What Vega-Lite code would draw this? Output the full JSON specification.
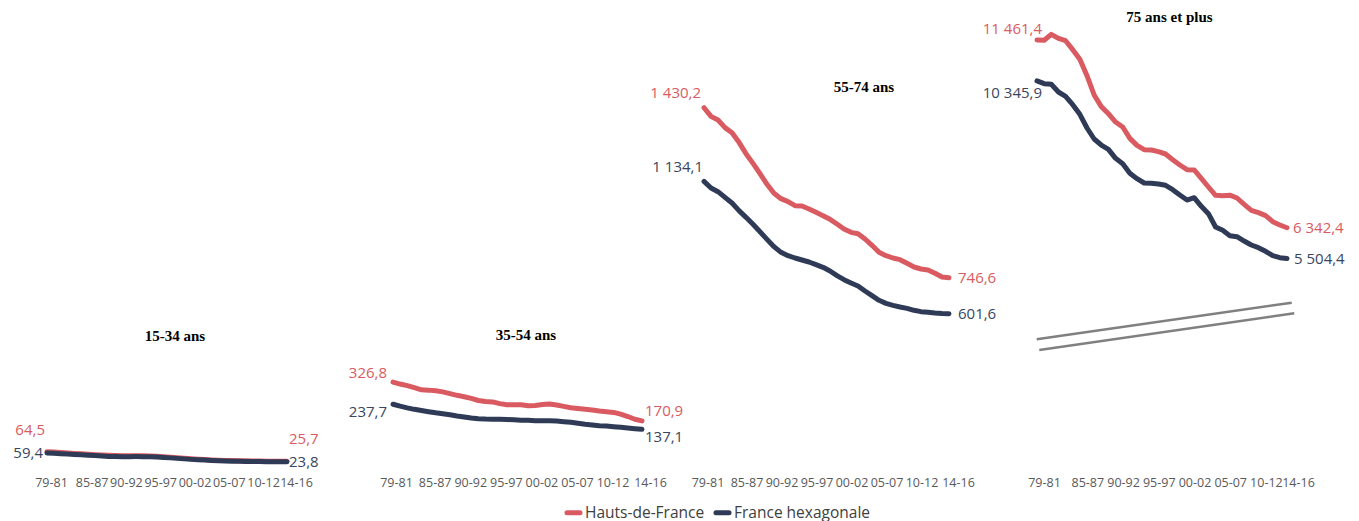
{
  "$schema": "https://vega.github.io/schema/vega-lite/v6.json",
  "padding": 0,
  "background": "white",
  "spacing": 0,
  "bounds": "flush",
  "datasets": {
    "p1": [
      {"annee": 1979, "Hauts-de-France": 64.5, "France hexagonale": 59.4},
      {"annee": 1980, "Hauts-de-France": 62.8, "France hexagonale": 57.9},
      {"annee": 1981, "Hauts-de-France": 61.0, "France hexagonale": 56.3},
      {"annee": 1982, "Hauts-de-France": 59.3, "France hexagonale": 54.8},
      {"annee": 1983, "Hauts-de-France": 57.6, "France hexagonale": 53.2},
      {"annee": 1984, "Hauts-de-France": 55.9, "France hexagonale": 51.7},
      {"annee": 1985, "Hauts-de-France": 54.2, "France hexagonale": 50.1},
      {"annee": 1986, "Hauts-de-France": 52.5, "France hexagonale": 48.6},
      {"annee": 1987, "Hauts-de-France": 51.0, "France hexagonale": 47.0},
      {"annee": 1988, "Hauts-de-France": 49.6, "France hexagonale": 45.5},
      {"annee": 1989, "Hauts-de-France": 48.8, "France hexagonale": 44.8},
      {"annee": 1990, "Hauts-de-France": 48.4, "France hexagonale": 44.5},
      {"annee": 1991, "Hauts-de-France": 48.3, "France hexagonale": 44.5},
      {"annee": 1992, "Hauts-de-France": 48.2, "France hexagonale": 44.6},
      {"annee": 1993, "Hauts-de-France": 48.0, "France hexagonale": 44.5},
      {"annee": 1994, "Hauts-de-France": 47.4, "France hexagonale": 44.0},
      {"annee": 1995, "Hauts-de-France": 46.2, "France hexagonale": 43.0},
      {"annee": 1996, "Hauts-de-France": 44.5, "France hexagonale": 41.5},
      {"annee": 1997, "Hauts-de-France": 42.4, "France hexagonale": 39.5},
      {"annee": 1998, "Hauts-de-France": 40.2, "France hexagonale": 37.5},
      {"annee": 1999, "Hauts-de-France": 38.0, "France hexagonale": 35.5},
      {"annee": 2000, "Hauts-de-France": 36.0, "France hexagonale": 33.5},
      {"annee": 2001, "Hauts-de-France": 34.3, "France hexagonale": 32.0},
      {"annee": 2002, "Hauts-de-France": 32.8, "France hexagonale": 30.5},
      {"annee": 2003, "Hauts-de-France": 31.4, "France hexagonale": 29.0},
      {"annee": 2004, "Hauts-de-France": 30.2, "France hexagonale": 27.8},
      {"annee": 2005, "Hauts-de-France": 29.3, "France hexagonale": 27.0},
      {"annee": 2006, "Hauts-de-France": 28.6, "France hexagonale": 26.3},
      {"annee": 2007, "Hauts-de-France": 28.0, "France hexagonale": 25.7},
      {"annee": 2008, "Hauts-de-France": 27.5, "France hexagonale": 25.3},
      {"annee": 2009, "Hauts-de-France": 27.1, "France hexagonale": 24.9},
      {"annee": 2010, "Hauts-de-France": 26.7, "France hexagonale": 24.6},
      {"annee": 2011, "Hauts-de-France": 26.4, "France hexagonale": 24.3},
      {"annee": 2012, "Hauts-de-France": 26.1, "France hexagonale": 24.1},
      {"annee": 2013, "Hauts-de-France": 25.9, "France hexagonale": 23.9},
      {"annee": 2014, "Hauts-de-France": 25.7, "France hexagonale": 23.8}
    ],
    "p2": [
      {"annee": 1979, "Hauts-de-France": 326.8, "France hexagonale": 237.7},
      {"annee": 1980, "Hauts-de-France": 319.0, "France hexagonale": 230.1},
      {"annee": 1981, "Hauts-de-France": 312.7, "France hexagonale": 223.4},
      {"annee": 1982, "Hauts-de-France": 304.4, "France hexagonale": 217.4},
      {"annee": 1983, "Hauts-de-France": 296.0, "France hexagonale": 212.7},
      {"annee": 1984, "Hauts-de-France": 294.6, "France hexagonale": 208.0},
      {"annee": 1985, "Hauts-de-France": 291.8, "France hexagonale": 203.3},
      {"annee": 1986, "Hauts-de-France": 287.5, "France hexagonale": 199.3},
      {"annee": 1987, "Hauts-de-France": 280.6, "France hexagonale": 195.3},
      {"annee": 1988, "Hauts-de-France": 273.7, "France hexagonale": 190.6},
      {"annee": 1989, "Hauts-de-France": 268.2, "France hexagonale": 186.6},
      {"annee": 1990, "Hauts-de-France": 261.3, "France hexagonale": 182.5},
      {"annee": 1991, "Hauts-de-France": 253.0, "France hexagonale": 179.9},
      {"annee": 1992, "Hauts-de-France": 248.8, "France hexagonale": 178.5},
      {"annee": 1993, "Hauts-de-France": 247.3, "France hexagonale": 177.9},
      {"annee": 1994, "Hauts-de-France": 240.4, "France hexagonale": 177.2},
      {"annee": 1995, "Hauts-de-France": 236.1, "France hexagonale": 176.5},
      {"annee": 1996, "Hauts-de-France": 235.9, "France hexagonale": 175.2},
      {"annee": 1997, "Hauts-de-France": 235.7, "France hexagonale": 173.8},
      {"annee": 1998, "Hauts-de-France": 231.5, "France hexagonale": 173.2},
      {"annee": 1999, "Hauts-de-France": 232.7, "France hexagonale": 171.8},
      {"annee": 2000, "Hauts-de-France": 236.5, "France hexagonale": 171.6},
      {"annee": 2001, "Hauts-de-France": 239.0, "France hexagonale": 171.5},
      {"annee": 2002, "Hauts-de-France": 234.7, "France hexagonale": 170.5},
      {"annee": 2003, "Hauts-de-France": 229.2, "France hexagonale": 167.8},
      {"annee": 2004, "Hauts-de-France": 223.6, "France hexagonale": 165.1},
      {"annee": 2005, "Hauts-de-France": 220.7, "France hexagonale": 161.1},
      {"annee": 2006, "Hauts-de-France": 217.8, "France hexagonale": 157.1},
      {"annee": 2007, "Hauts-de-France": 215.0, "France hexagonale": 154.4},
      {"annee": 2008, "Hauts-de-France": 210.8, "France hexagonale": 151.7},
      {"annee": 2009, "Hauts-de-France": 207.9, "France hexagonale": 150.4},
      {"annee": 2010, "Hauts-de-France": 205.0, "France hexagonale": 147.7},
      {"annee": 2011, "Hauts-de-France": 198.1, "France hexagonale": 145.0},
      {"annee": 2012, "Hauts-de-France": 188.5, "France hexagonale": 142.3},
      {"annee": 2013, "Hauts-de-France": 177.6, "France hexagonale": 139.6},
      {"annee": 2014, "Hauts-de-France": 170.9, "France hexagonale": 137.1}
    ],
    "p3": [
      {"annee": 1979, "Hauts-de-France": 1430.2, "France hexagonale": 1134.1},
      {"annee": 1980, "Hauts-de-France": 1395.5, "France hexagonale": 1107.4},
      {"annee": 1981, "Hauts-de-France": 1380.8, "France hexagonale": 1092.6},
      {"annee": 1982, "Hauts-de-France": 1350.0, "France hexagonale": 1069.8},
      {"annee": 1983, "Hauts-de-France": 1329.8, "France hexagonale": 1047.0},
      {"annee": 1984, "Hauts-de-France": 1291.0, "France hexagonale": 1016.2},
      {"annee": 1985, "Hauts-de-France": 1245.4, "France hexagonale": 989.4},
      {"annee": 1986, "Hauts-de-France": 1206.5, "France hexagonale": 961.3},
      {"annee": 1987, "Hauts-de-France": 1165.0, "France hexagonale": 931.8},
      {"annee": 1988, "Hauts-de-France": 1122.1, "France hexagonale": 901.0},
      {"annee": 1989, "Hauts-de-France": 1085.9, "France hexagonale": 871.5},
      {"annee": 1990, "Hauts-de-France": 1064.5, "France hexagonale": 848.7},
      {"annee": 1991, "Hauts-de-France": 1052.4, "France hexagonale": 835.3},
      {"annee": 1992, "Hauts-de-France": 1036.3, "France hexagonale": 825.9},
      {"annee": 1993, "Hauts-de-France": 1035.0, "France hexagonale": 817.9},
      {"annee": 1994, "Hauts-de-France": 1022.9, "France hexagonale": 809.8},
      {"annee": 1995, "Hauts-de-France": 1009.5, "France hexagonale": 799.1},
      {"annee": 1996, "Hauts-de-France": 996.1, "France hexagonale": 788.4},
      {"annee": 1997, "Hauts-de-France": 981.4, "France hexagonale": 773.6},
      {"annee": 1998, "Hauts-de-France": 962.6, "France hexagonale": 754.8},
      {"annee": 1999, "Hauts-de-France": 942.5, "France hexagonale": 738.8},
      {"annee": 2000, "Hauts-de-France": 929.1, "France hexagonale": 725.4},
      {"annee": 2001, "Hauts-de-France": 923.7, "France hexagonale": 713.3},
      {"annee": 2002, "Hauts-de-France": 902.3, "France hexagonale": 693.2},
      {"annee": 2003, "Hauts-de-France": 876.8, "France hexagonale": 674.4},
      {"annee": 2004, "Hauts-de-France": 848.7, "France hexagonale": 655.7},
      {"annee": 2005, "Hauts-de-France": 835.3, "France hexagonale": 643.6},
      {"annee": 2006, "Hauts-de-France": 825.9, "France hexagonale": 635.6},
      {"annee": 2007, "Hauts-de-France": 819.2, "France hexagonale": 628.9},
      {"annee": 2008, "Hauts-de-France": 804.5, "France hexagonale": 623.5},
      {"annee": 2009, "Hauts-de-France": 789.7, "France hexagonale": 615.5},
      {"annee": 2010, "Hauts-de-France": 781.7, "France hexagonale": 610.1},
      {"annee": 2011, "Hauts-de-France": 777.6, "France hexagonale": 607.4},
      {"annee": 2012, "Hauts-de-France": 764.3, "France hexagonale": 604.5},
      {"annee": 2013, "Hauts-de-France": 749.5, "France hexagonale": 602.5},
      {"annee": 2014, "Hauts-de-France": 746.6, "France hexagonale": 601.6}
    ],
    "p4": [
      {"annee": 1979, "Hauts-de-France": 11461.4, "France hexagonale": 10345.9},
      {"annee": 1980, "Hauts-de-France": 11455, "France hexagonale": 10271},
      {"annee": 1981, "Hauts-de-France": 11616, "France hexagonale": 10253},
      {"annee": 1982, "Hauts-de-France": 11507, "France hexagonale": 10044},
      {"annee": 1983, "Hauts-de-France": 11443, "France hexagonale": 9926},
      {"annee": 1984, "Hauts-de-France": 11198, "France hexagonale": 9698},
      {"annee": 1985, "Hauts-de-France": 10934, "France hexagonale": 9435},
      {"annee": 1986, "Hauts-de-France": 10489, "France hexagonale": 9062},
      {"annee": 1987, "Hauts-de-France": 9962, "France hexagonale": 8762},
      {"annee": 1988, "Hauts-de-France": 9644, "France hexagonale": 8598},
      {"annee": 1989, "Hauts-de-France": 9453, "France hexagonale": 8480},
      {"annee": 1990, "Hauts-de-France": 9225, "France hexagonale": 8235},
      {"annee": 1991, "Hauts-de-France": 9089, "France hexagonale": 8089},
      {"annee": 1992, "Hauts-de-France": 8780, "France hexagonale": 7826},
      {"annee": 1993, "Hauts-de-France": 8589, "France hexagonale": 7680},
      {"annee": 1994, "Hauts-de-France": 8471, "France hexagonale": 7562},
      {"annee": 1995, "Hauts-de-France": 8462, "France hexagonale": 7553},
      {"annee": 1996, "Hauts-de-France": 8416, "France hexagonale": 7535},
      {"annee": 1997, "Hauts-de-France": 8353, "France hexagonale": 7499},
      {"annee": 1998, "Hauts-de-France": 8198, "France hexagonale": 7380},
      {"annee": 1999, "Hauts-de-France": 8053, "France hexagonale": 7235},
      {"annee": 2000, "Hauts-de-France": 7926, "France hexagonale": 7098},
      {"annee": 2001, "Hauts-de-France": 7917, "France hexagonale": 7162},
      {"annee": 2002, "Hauts-de-France": 7689, "France hexagonale": 6926},
      {"annee": 2003, "Hauts-de-France": 7453, "France hexagonale": 6726},
      {"annee": 2004, "Hauts-de-France": 7226, "France hexagonale": 6362},
      {"annee": 2005, "Hauts-de-France": 7217, "France hexagonale": 6271},
      {"annee": 2006, "Hauts-de-France": 7230, "France hexagonale": 6126},
      {"annee": 2007, "Hauts-de-France": 7153, "France hexagonale": 6098},
      {"annee": 2008, "Hauts-de-France": 6980, "France hexagonale": 5980},
      {"annee": 2009, "Hauts-de-France": 6817, "France hexagonale": 5871},
      {"annee": 2010, "Hauts-de-France": 6753, "France hexagonale": 5798},
      {"annee": 2011, "Hauts-de-France": 6671, "France hexagonale": 5700},
      {"annee": 2012, "Hauts-de-France": 6508, "France hexagonale": 5580},
      {"annee": 2013, "Hauts-de-France": 6417, "France hexagonale": 5525},
      {"annee": 2014, "Hauts-de-France": 6342.4, "France hexagonale": 5504.4}
    ]
  },
  "hconcat": [
    {
      "width": 330, "height": 463,
      "title": {"text": "15-34 ans", "anchor": "middle", "frame": "group", "baseline": "middle", "offset": -351, "dx": 10},
      "data": {"name": "p1"},
      "transform": [{"fold": ["Hauts-de-France", "France hexagonale"], "as": ["serie", "valeur"]}],
      "encoding": {
        "x": {"field": "annee", "type": "quantitative", "scale": {"domain": [1972.146, 2020.271], "nice": false, "zero": false},
              "axis": {"title": null, "values": [1979, 1985, 1990, 1995, 2000, 2005, 2010, 2014], "labelExpr": "slice(toString(datum.value), 2) + '-' + slice(toString(datum.value + 2), 2)", "labelOverlap": false, "labelFlush": false, "labelBound": false,
                       "labelOffset": {"condition": [{"test": "datum.value == 1979", "value": 4}, {"test": "datum.value == 2014", "value": 9}], "value": 3.5}}},
        "y": {"field": "valeur", "type": "quantitative", "scale": {"domain": [18.9, 1880.6], "nice": false, "zero": false}, "axis": null}
      },
      "layer": [
        {"mark": {"type": "line", "strokeWidth": 5, "strokeCap": "round", "strokeJoin": "round"},
         "encoding": {"color": {"field": "serie", "type": "nominal",
           "scale": {"domain": ["Hauts-de-France", "France hexagonale"], "range": ["#D95B61", "#2E3A56"]},
           "legend": {"title": null, "orient": "none", "legendX": 564, "legendY": 503, "direction": "horizontal",
                      "symbolType": "stroke", "symbolStrokeWidth": 5, "symbolSize": 170,
                      "labelFont": "Open Sans", "labelFontSize": 15.5, "labelColor": "#404040",
                      "columnPadding": 0, "labelOffset": 2,
                      "encode": {"symbols": {"update": {"strokeCap": {"value": "round"}}}}}}}},
        {"transform": [{"filter": "datum.annee == 1979 && datum.serie == 'Hauts-de-France'"}],
         "mark": {"type": "text", "align": "right", "baseline": "middle", "dx": -2, "dy": -22, "font": "Open Sans", "fontSize": 15, "color": "#D95B61"},
         "encoding": {"text": {"field": "valeur", "type": "quantitative", "format": ",.1f"}}},
        {"transform": [{"filter": "datum.annee == 1979 && datum.serie == 'France hexagonale'"}],
         "mark": {"type": "text", "align": "right", "baseline": "middle", "dx": -4, "dy": 0, "font": "Open Sans", "fontSize": 15, "color": "#3A4560"},
         "encoding": {"text": {"field": "valeur", "type": "quantitative", "format": ",.1f"}}},
        {"transform": [{"filter": "datum.annee == 2014 && datum.serie == 'Hauts-de-France'"}],
         "mark": {"type": "text", "align": "left", "baseline": "middle", "dx": 2, "dy": -22, "font": "Open Sans", "fontSize": 15, "color": "#D95B61"},
         "encoding": {"text": {"field": "valeur", "type": "quantitative", "format": ",.1f"}}},
        {"transform": [{"filter": "datum.annee == 2014 && datum.serie == 'France hexagonale'"}],
         "mark": {"type": "text", "align": "left", "baseline": "middle", "dx": 2, "dy": 0, "font": "Open Sans", "fontSize": 15, "color": "#3A4560"},
         "encoding": {"text": {"field": "valeur", "type": "quantitative", "format": ",.1f"}}}
      ]
    },
    {
      "width": 360, "height": 463,
      "title": {"text": "35-54 ans", "anchor": "middle", "frame": "group", "baseline": "middle", "offset": -350, "dx": 16},
      "data": {"name": "p2"},
      "transform": [{"fold": ["Hauts-de-France", "France hexagonale"], "as": ["serie", "valeur"]}],
      "encoding": {
        "x": {"field": "annee", "type": "quantitative", "scale": {"domain": [1970.144, 2020.748], "nice": false, "zero": false},
              "axis": {"title": null, "values": [1979, 1985, 1990, 1995, 2000, 2005, 2010, 2014], "labelExpr": "slice(toString(datum.value), 2) + '-' + slice(toString(datum.value + 2), 2)", "labelOverlap": false, "labelFlush": false, "labelBound": false,
                       "labelOffset": {"condition": [{"test": "datum.value == 1979", "value": 3}, {"test": "datum.value == 2014", "value": 8}], "value": -1}}},
        "y": {"field": "valeur", "type": "quantitative", "scale": {"domain": [1.6, 1863.3], "nice": false, "zero": false}, "axis": null}
      },
      "layer": [
        {"mark": {"type": "line", "strokeWidth": 5, "strokeCap": "round", "strokeJoin": "round"},
         "encoding": {"color": {"field": "serie", "type": "nominal",
           "scale": {"domain": ["Hauts-de-France", "France hexagonale"], "range": ["#D95B61", "#2E3A56"]}}}},
        {"transform": [{"filter": "datum.annee == 1979 && datum.serie == 'Hauts-de-France'"}],
         "mark": {"type": "text", "align": "right", "baseline": "middle", "dx": -6, "dy": -9, "font": "Open Sans", "fontSize": 15, "color": "#D95B61"},
         "encoding": {"text": {"field": "valeur", "type": "quantitative", "format": ",.1f"}}},
        {"transform": [{"filter": "datum.annee == 1979 && datum.serie == 'France hexagonale'"}],
         "mark": {"type": "text", "align": "right", "baseline": "middle", "dx": -6, "dy": 8, "font": "Open Sans", "fontSize": 15, "color": "#3A4560"},
         "encoding": {"text": {"field": "valeur", "type": "quantitative", "format": ",.1f"}}},
        {"transform": [{"filter": "datum.annee == 2014 && datum.serie == 'Hauts-de-France'"}],
         "mark": {"type": "text", "align": "left", "baseline": "middle", "dx": 3, "dy": -10, "font": "Open Sans", "fontSize": 15, "color": "#D95B61"},
         "encoding": {"text": {"field": "valeur", "type": "quantitative", "format": ",.1f"}}},
        {"transform": [{"filter": "datum.annee == 2014 && datum.serie == 'France hexagonale'"}],
         "mark": {"type": "text", "align": "left", "baseline": "middle", "dx": 3, "dy": 8, "font": "Open Sans", "fontSize": 15, "color": "#3A4560"},
         "encoding": {"text": {"field": "valeur", "type": "quantitative", "format": ",.1f"}}}
      ]
    },
    {
      "width": 310, "height": 463,
      "title": {"text": "55-74 ans", "anchor": "middle", "frame": "group", "baseline": "middle", "offset": -102, "dx": 19},
      "data": {"name": "p3"},
      "transform": [{"fold": ["Hauts-de-France", "France hexagonale"], "as": ["serie", "valeur"]}],
      "encoding": {
        "x": {"field": "annee", "type": "quantitative", "scale": {"domain": [1977.0, 2021.286], "nice": false, "zero": false},
              "axis": {"title": null, "values": [1979, 1985, 1990, 1995, 2000, 2005, 2010, 2014], "labelExpr": "slice(toString(datum.value), 2) + '-' + slice(toString(datum.value + 2), 2)", "labelOverlap": false, "labelFlush": false, "labelBound": false,
                       "labelOffset": {"condition": [{"test": "datum.value == 1979", "value": 3.5}, {"test": "datum.value == 2014", "value": 9}], "value": 0.5}}},
        "y": {"field": "valeur", "type": "quantitative", "scale": {"domain": [1.6, 1863.3], "nice": false, "zero": false}, "axis": null}
      },
      "layer": [
        {"mark": {"type": "line", "strokeWidth": 5, "strokeCap": "round", "strokeJoin": "round"},
         "encoding": {"color": {"field": "serie", "type": "nominal",
           "scale": {"domain": ["Hauts-de-France", "France hexagonale"], "range": ["#D95B61", "#2E3A56"]}}}},
        {"transform": [{"filter": "datum.annee == 1979 && datum.serie == 'Hauts-de-France'"}],
         "mark": {"type": "text", "align": "right", "baseline": "middle", "dx": -3, "dy": -15, "font": "Open Sans", "fontSize": 15, "color": "#D95B61"},
         "encoding": {"text": {"field": "valeur", "type": "quantitative", "format": ",.1f"}}},
        {"transform": [{"filter": "datum.annee == 1979 && datum.serie == 'France hexagonale'"}],
         "mark": {"type": "text", "align": "right", "baseline": "middle", "dx": -1, "dy": -14, "font": "Open Sans", "fontSize": 15, "color": "#3A4560"},
         "encoding": {"text": {"field": "valeur", "type": "quantitative", "format": ",.1f"}}},
        {"transform": [{"filter": "datum.annee == 2014 && datum.serie == 'Hauts-de-France'"}],
         "mark": {"type": "text", "align": "left", "baseline": "middle", "dx": 9, "dy": 0, "font": "Open Sans", "fontSize": 15, "color": "#D95B61"},
         "encoding": {"text": {"field": "valeur", "type": "quantitative", "format": ",.1f"}}},
        {"transform": [{"filter": "datum.annee == 2014 && datum.serie == 'France hexagonale'"}],
         "mark": {"type": "text", "align": "left", "baseline": "middle", "dx": 9, "dy": 0, "font": "Open Sans", "fontSize": 15, "color": "#3A4560"},
         "encoding": {"text": {"field": "valeur", "type": "quantitative", "format": ",.1f"}}}
      ]
    },
    {
      "width": 359, "height": 463,
      "title": {"text": "75 ans et plus", "anchor": "middle", "frame": "group", "baseline": "middle", "offset": -32, "dx": -10},
      "data": {"name": "p4"},
      "transform": [{"fold": ["Hauts-de-France", "France hexagonale"], "as": ["serie", "valeur"]}],
      "encoding": {
        "x": {"field": "annee", "type": "quantitative", "scale": {"domain": [1973.82, 2024.08], "nice": false, "zero": false},
              "axis": {"title": null, "values": [1979, 1985, 1990, 1995, 2000, 2005, 2010, 2014], "labelExpr": "slice(toString(datum.value), 2) + '-' + slice(toString(datum.value + 2), 2)", "labelOverlap": false, "labelFlush": false, "labelBound": false,
                       "labelOffset": {"condition": [{"test": "datum.value == 1979", "value": 7}, {"test": "datum.value == 2014", "value": 11}], "value": 7.5}}},
        "y": {"field": "valeur", "type": "quantitative", "scale": {"domain": [-73.6, 12552.6], "nice": false, "zero": false}, "axis": null}
      },
      "layer": [
        {"mark": {"type": "line", "strokeWidth": 5, "strokeCap": "round", "strokeJoin": "round"},
         "encoding": {"color": {"field": "serie", "type": "nominal",
           "scale": {"domain": ["Hauts-de-France", "France hexagonale"], "range": ["#D95B61", "#2E3A56"]}}}},
        {"transform": [{"filter": "datum.annee == 1979 && datum.serie == 'Hauts-de-France'"}],
         "mark": {"type": "text", "align": "right", "baseline": "middle", "dx": 5, "dy": -11, "font": "Open Sans", "fontSize": 15, "color": "#D95B61"},
         "encoding": {"text": {"field": "valeur", "type": "quantitative", "format": ",.1f"}}},
        {"transform": [{"filter": "datum.annee == 1979 && datum.serie == 'France hexagonale'"}],
         "mark": {"type": "text", "align": "right", "baseline": "middle", "dx": 5, "dy": 12, "font": "Open Sans", "fontSize": 15, "color": "#3A4560"},
         "encoding": {"text": {"field": "valeur", "type": "quantitative", "format": ",.1f"}}},
        {"transform": [{"filter": "datum.annee == 2014 && datum.serie == 'Hauts-de-France'"}],
         "mark": {"type": "text", "align": "left", "baseline": "middle", "dx": 6, "dy": 0, "font": "Open Sans", "fontSize": 15, "color": "#D95B61"},
         "encoding": {"text": {"field": "valeur", "type": "quantitative", "format": ",.1f"}}},
        {"transform": [{"filter": "datum.annee == 2014 && datum.serie == 'France hexagonale'"}],
         "mark": {"type": "text", "align": "left", "baseline": "middle", "dx": 7, "dy": 1, "font": "Open Sans", "fontSize": 15, "color": "#3A4560"},
         "encoding": {"text": {"field": "valeur", "type": "quantitative", "format": ",.1f"}}},
        {"transform": [{"filter": "datum.annee == 1979 && datum.serie == 'Hauts-de-France'"}],
         "mark": {"type": "rule", "color": "#808080", "strokeWidth": 2.5},
         "encoding": {"x": {"datum": 1978.96, "type": "quantitative"}, "x2": {"datum": 2014.66}, "y": {"datum": 3300, "type": "quantitative"}, "y2": {"datum": 4298}}},
        {"transform": [{"filter": "datum.annee == 1979 && datum.serie == 'Hauts-de-France'"}],
         "mark": {"type": "rule", "color": "#808080", "strokeWidth": 2.5},
         "encoding": {"x": {"datum": 1979.32, "type": "quantitative"}, "x2": {"datum": 2015.02}, "y": {"datum": 3008, "type": "quantitative"}, "y2": {"datum": 4009}}}
      ]
    }
  ],
  "config": {
    "view": {"stroke": null},
    "locale": {"number": {"decimal": ",", "thousands": " ", "grouping": [3], "currency": ["", " €"]}},
    "title": {"font": "Liberation Serif", "fontWeight": "bold", "fontSize": 15, "color": "black"},
    "axis": {"domain": false, "ticks": false, "grid": false, "labelFont": "Open Sans", "labelFontSize": 12.5, "labelColor": "#595959", "labelPadding": 13}
  }
}
